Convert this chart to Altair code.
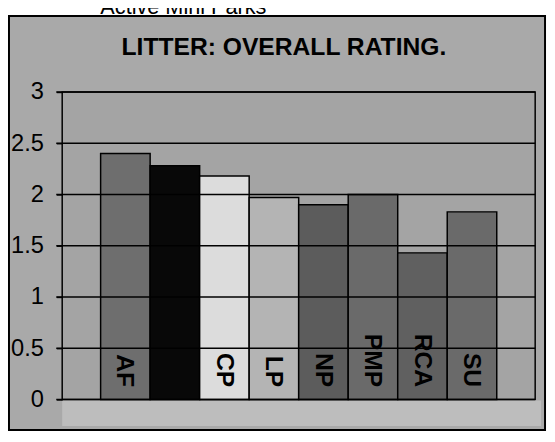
import altair as alt
import pandas as pd

# ---- data ----
parks = ["AF", "", "CP", "LP", "NP", "PMP", "RCA", "SU"]
ratings = [2.40, 2.28, 2.18, 1.97, 1.90, 2.00, 1.43, 1.83]
y_ticks = [0, 0.5, 1, 1.5, 2, 2.5, 3]
title_text = ["LITTER: OVERALL RATING."]
header_text = ["Active Mini Parks"]

# ---- styles ----
bar_fills = ["#6e6e6e", "#080808", "#dcdcdc", "#b4b4b4",
             "#5c5c5c", "#6a6a6a", "#606060", "#6a6a6a"]
FRAME_BG = "#a9a9a9"
PLOT_BG = "#a4a4a4"
FLOOR_BG = "#bdbdbd"
FONT = "Liberation Sans"

W, H = 480, 312

df = pd.DataFrame({"idx": list(range(len(parks))), "park": parks, "rating": ratings})
ticks_df = pd.DataFrame({"tick": y_ticks})
title_df = pd.DataFrame({"t": title_text})
header_df = pd.DataFrame({"t": header_text})

x_scale = alt.Scale(paddingInner=0, paddingOuter=0.776)
y_scale = alt.Scale(domain=[0, 3], nice=False, zero=True)
y_axis = alt.Axis(
    values=y_ticks, format="~g", title=None, grid=False, domain=False,
    tickColor="black", tickSize=6, tickWidth=1.5,
    labelFontSize=24, labelFont=FONT, labelColor="black", labelPadding=13,
    zindex=2)

frame = alt.Chart(title_df).mark_rect(
    fill=FRAME_BG, stroke="black", strokeWidth=2, clip=False
).encode(x=alt.value(-54), x2=alt.value(490), y=alt.value(-77), y2=alt.value(343))

plot_bg = alt.Chart(title_df).mark_rect(
    fill=PLOT_BG, stroke="black", strokeWidth=1.5, clip=False
).encode(x=alt.value(0), x2=alt.value(W), y=alt.value(0), y2=alt.value(H))

floor = alt.Chart(title_df).mark_rect(
    fill=FLOOR_BG, clip=False
).encode(x=alt.value(0), x2=alt.value(W + 6), y=alt.value(H + 1), y2=alt.value(H + 27))

bars = alt.Chart(df).mark_bar(stroke="black", strokeWidth=1.5).encode(
    x=alt.X("idx:O", scale=x_scale, axis=None),
    y=alt.Y("rating:Q", scale=y_scale, axis=y_axis),
    color=alt.Color("idx:O", scale=alt.Scale(domain=list(range(len(parks))), range=bar_fills),
                    legend=None),
)

grid = alt.Chart(ticks_df).mark_rule(color="black", strokeWidth=1.5).encode(
    y=alt.Y("tick:Q", scale=y_scale, axis=y_axis),
    x=alt.value(-6), x2=alt.value(W),
)

labels = alt.Chart(df).mark_text(
    angle=90, align="right", baseline="middle", fontSize=25,
    fontWeight="bold", font=FONT, color="black"
).encode(
    x=alt.X("idx:O", scale=x_scale, axis=None),
    y=alt.datum(0.12),
    text="park:N",
)

title = alt.Chart(title_df).mark_text(
    fontSize=25, fontWeight="bold", font=FONT, align="center",
    baseline="alphabetic", color="black", clip=False
).encode(x=alt.value(225), y=alt.value(-38), text="t:N")

header = alt.Chart(header_df).mark_text(
    fontSize=22, font=FONT, align="center", baseline="alphabetic",
    color="black", clip=False
).encode(x=alt.value(123), y=alt.value(-79), text="t:N")

chart = alt.layer(frame, plot_bg, floor, bars, grid, labels, title, header).properties(
    width=W, height=H,
    padding={"left": 55, "top": 82, "right": 12, "bottom": 40},
    autosize=alt.AutoSizeParams(type="none"),
).configure_view(stroke="transparent").configure(background="white")

chart.save("out.html", embed_options={"renderer": "svg", "actions": False})
